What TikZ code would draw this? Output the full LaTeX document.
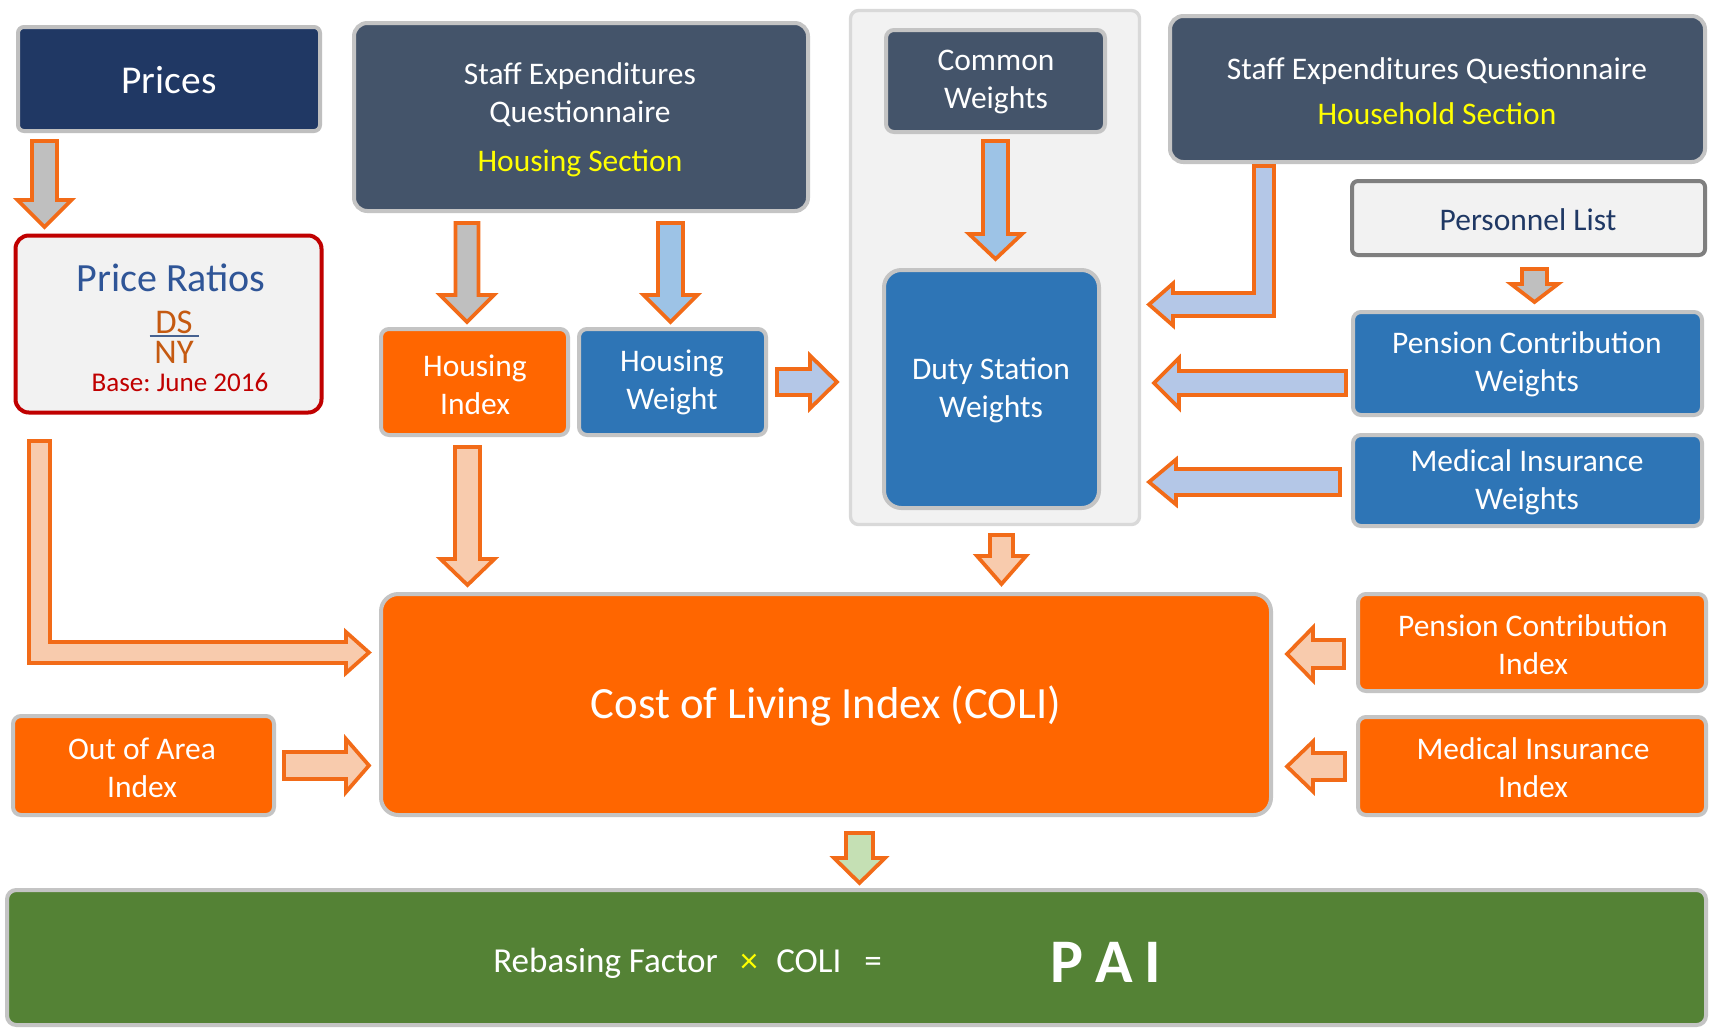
\documentclass[tikz,border=0pt]{standalone}
\usepackage{fontspec}
\setmainfont{Carlito}
\frenchspacing
\usetikzlibrary{calc,fit}
\definecolor{navy}{HTML}{203864}
\definecolor{slate}{HTML}{44546A}
\definecolor{mblue}{HTML}{2E75B6}
\definecolor{orng}{HTML}{FF6600}
\definecolor{grn}{HTML}{548235}
\definecolor{lgray}{HTML}{F2F2F2}
\definecolor{bord}{HTML}{C4C4C4}
\definecolor{cbord}{HTML}{D9D9D9}
\definecolor{pred}{HTML}{C00000}
\definecolor{pblue}{HTML}{2F5597}
\definecolor{dsc}{HTML}{C55A11}
\definecolor{yel}{HTML}{FFFF00}
\definecolor{arrowor}{HTML}{F26B18}
\definecolor{agray}{HTML}{BFBFBF}
\definecolor{ablue}{HTML}{9DC3E6}
\definecolor{ablueb}{HTML}{B4C7E7}
\definecolor{apeach}{HTML}{F8CBAD}
\definecolor{agreen}{HTML}{C5E0B4}
\definecolor{pgray}{HTML}{7F7F7F}
\definecolor{ptext}{HTML}{1F3864}
\newcommand\fs[2]{\fontsize{#1}{#2}\selectfont}
\newcommand\bodyfont{\fontsize{23.6}{28.4}\selectfont}
% block arrows: #1 fill, #2 start, #3 tip, #4 half shaft, #5 half head, #6 head length
\newcommand\adown[6]{\draw[barrow, fill=#1] ($(#2)+(-#4,0)$) -- ($(#2)+(#4,0)$) -- ($(#3)+(#4,-#6)$) -- ($(#3)+(#5,-#6)$) -- (#3) -- ($(#3)+(-#5,-#6)$) -- ($(#3)+(-#4,-#6)$) -- cycle;}
\newcommand\aright[6]{\draw[barrow, fill=#1] ($(#2)+(0,-#4)$) -- ($(#3)+(-#6,-#4)$) -- ($(#3)+(-#6,-#5)$) -- (#3) -- ($(#3)+(-#6,#5)$) -- ($(#3)+(-#6,#4)$) -- ($(#2)+(0,#4)$) -- cycle;}
\newcommand\aleft[6]{\draw[barrow, fill=#1] ($(#2)+(0,-#4)$) -- ($(#3)+(#6,-#4)$) -- ($(#3)+(#6,-#5)$) -- (#3) -- ($(#3)+(#6,#5)$) -- ($(#3)+(#6,#4)$) -- ($(#2)+(0,#4)$) -- cycle;}
\begin{document}
\begin{tikzpicture}[x=0.75pt,y=-0.75pt,
  box/.style={draw=bord, line width=3pt, rounded corners=6pt, inner sep=0pt},
  barrow/.style={draw=arrowor, line width=2.8pt, line join=miter},
  txt/.style={inner sep=0pt, align=center, text=white, font=\bodyfont}]
\useasboundingbox (0,0) rectangle (1711,1029);
\fill[white] (0,0) rectangle (1711,1029);

% ---- boxes ----
\node[box, draw=agray, fill=navy, rounded corners=4.5pt, fit={(18,27)(320,131)}] (prices) {};
\node[txt, font=\fs{29.6}{35}] (pricest) at (169,80) {Prices};

\node[box, draw=pred, fill=lgray, rounded corners=10pt, fit={(15.5,235.5)(321.5,412.5)}] (ratios) {};
\node[txt, font=\fs{30}{36}, text=pblue] (prt) at (171,278) {Price Ratios};
\node[txt, font=\fs{26}{22.5}, text=dsc] (dsny) at (174,337) {DS\\NY};
\draw[pblue!70!gray, line width=1.2pt] ($(dsny.center)+(-24.5,-1)$) -- ($(dsny.center)+(24.5,-1)$);
\node[txt, font=\fs{20.3}{24}, text=pred] (base) at (180,382) {Base: June 2016};

\node[box, fill=slate, rounded corners=10pt, fit={(354,23)(808,211)}] (seq1) {};
\node[txt] (seq1t) at (580,120) {Staff Expenditures\\Questionnaire\\[8.2pt]\textcolor{yel}{Housing Section}};
\node[box, fill=orng, fit={(381,329)(568,435)}] (hidx) {};
\node[txt] (hidxt) at (475,385) {Housing\\Index};
\node[box, fill=mblue, fit={(579,329)(766,435)}] (hwt) {};
\node[txt] (hwtt) at (672,382) {Housing\\Weight};

\node[box, draw=cbord, line width=2.5pt, fill=lgray, fit={(850.5,10.5)(1139.5,524.5)}] (cont) {};
\node[box, fill=slate, fit={(886,30)(1105,132)}] (cw) {};
\node[txt] (cwt) at (996,82) {Common\\Weights};
\node[box, fill=mblue, rounded corners=13pt, fit={(884,270)(1099,508)}] (dsw) {};
\node[txt] (dswt) at (991,390) {Duty Station\\Weights};

\node[box, fill=slate, rounded corners=10pt, fit={(1170,16)(1705,162)}] (seq2) {};
\node[txt] (seq2t) at (1437,91) {Staff Expenditures Questionnaire\\[5.3pt]\textcolor{yel}{Household Section}};
\node[box, draw=pgray, fill=lgray, rounded corners=4.5pt, fit={(1352,181)(1705,255)}] (pers) {};
\node[txt, text=ptext] (perst) at (1528,220) {Personnel List};
\node[box, fill=mblue, fit={(1353,312)(1702,415)}] (pcw) {};
\node[txt] (pcwt) at (1527,364) {Pension Contribution\\Weights};
\node[box, fill=mblue, fit={(1353,435)(1702,526)}] (miw) {};
\node[txt] (miwt) at (1527,482) {Medical Insurance\\Weights};

\node[box, fill=orng, rounded corners=13pt, fit={(381,594)(1271,815)}] (coli) {};
\node[txt, font=\fs{33.5}{40}] (colit) at (826,706) {Cost of Living Index (COLI)};
\node[box, fill=orng, fit={(13,716)(274,815)}] (ooa) {};
\node[txt] (ooat) at (142,768) {Out of Area\\Index};
\node[box, fill=orng, fit={(1358,594)(1706,691)}] (pci) {};
\node[txt] (pcit) at (1533,645) {Pension Contribution\\Index};
\node[box, fill=orng, fit={(1358,717)(1706,815)}] (mii) {};
\node[txt] (miit) at (1533,768) {Medical Insurance\\Index};

\node[box, fill=grn, rounded corners=7pt, fit={(7,890)(1706,1025)}] (pai) {};
\node[txt, anchor=base west, font=\fs{26.3}{30}] (rb) at (493,972) {Rebasing Factor};
\node[txt, anchor=base, font=\fs{26.3}{30}, text=yel] (tm) at (749,972) {×};
\node[txt, anchor=base west, font=\fs{26.3}{30}] (cl) at (776,972) {COLI};
\node[txt, anchor=base, font=\fs{26.3}{30}] (eq) at (873,972) {=};
\node[txt, anchor=base west, font=\bfseries\fs{46.5}{50}] (paitxt) at (1050,982) {P\kern9pt A\kern9pt I};

% ---- arrow end points ----
\coordinate (a1s) at (44.5,141);  \coordinate (a1t) at (44.5,227);
\coordinate (a2s) at (467,223);   \coordinate (a2t) at (467,322);
\coordinate (a3s) at (670.5,223); \coordinate (a3t) at (670.5,322);
\coordinate (a4s) at (777,382);   \coordinate (a4t) at (837,382);
\coordinate (a5s) at (995.5,141); \coordinate (a5t) at (995.5,259);
\coordinate (a7s) at (1346,383);  \coordinate (a7t) at (1154,383);
\coordinate (a8s) at (1340,482);  \coordinate (a8t) at (1149,482);
\coordinate (a9s) at (1534.5,269); \coordinate (a9t) at (1534.5,302);
\coordinate (a10s) at (1001.5,535); \coordinate (a10t) at (1001.5,584);
\coordinate (a11s) at (467.5,447); \coordinate (a11t) at (467.5,585);
\coordinate (a13s) at (284,765.5); \coordinate (a13t) at (369,765.5);
\coordinate (a14s) at (1344,654); \coordinate (a14t) at (1287,654);
\coordinate (a15s) at (1345,766.5); \coordinate (a15t) at (1287,766.5);
\coordinate (a16s) at (859.5,833); \coordinate (a16t) at (859.5,883);
\coordinate (l1s) at (39.5,441); \coordinate (l1t) at (369,652.5);
\coordinate (l2s) at (1264,166); \coordinate (l2t) at (1149,304.5);

% ---- arrows ----
\adown{agray}{a1s}{a1t}{12.5}{27}{27}
\adown{agray}{a2s}{a2t}{11.5}{27}{27}
\adown{ablue}{a3s}{a3t}{12.5}{27}{27}
\aright{ablueb}{a4s}{a4t}{13}{26.5}{27}
\adown{ablue}{a5s}{a5t}{12.5}{26.5}{25}
\aleft{ablueb}{a7s}{a7t}{12}{25}{25}
\aleft{ablueb}{a8s}{a8t}{13}{22.5}{27}
\adown{agray}{a9s}{a9t}{12.5}{23.5}{18}
\adown{apeach}{a10s}{a10t}{11.5}{24.5}{28}
\adown{apeach}{a11s}{a11t}{12.5}{27}{26}
\aright{apeach}{a13s}{a13t}{13.5}{26.5}{23}
\aleft{apeach}{a14s}{a14t}{14}{26.5}{26}
\aleft{apeach}{a15s}{a15t}{13.5}{25}{26}
\adown{agreen}{a16s}{a16t}{13.5}{25.5}{25}
% L-shaped arrows
\draw[barrow, fill=apeach] ($(l1s)+(-10.5,0)$) -- ($(l1s)+(10.5,0)$) -- ($(l1s |- l1t)+(10.5,-10.5)$) -- ($(l1t)+(-23,-10.5)$) -- ($(l1t)+(-23,-20.5)$) -- (l1t) -- ($(l1t)+(-23,20.5)$) -- ($(l1t)+(-23,10.5)$) -- ($(l1s |- l1t)+(-10.5,10.5)$) -- cycle;
\draw[barrow, fill=ablueb] ($(l2s)+(10,0)$) -- ($(l2s |- l2t)+(10,11.5)$) -- ($(l2t)+(24,11.5)$) -- ($(l2t)+(24,21)$) -- (l2t) -- ($(l2t)+(24,-21)$) -- ($(l2t)+(24,-11.5)$) -- ($(l2s |- l2t)+(-10,-11.5)$) -- ($(l2s)+(-10,0)$) -- cycle;
\end{tikzpicture}
\end{document}
